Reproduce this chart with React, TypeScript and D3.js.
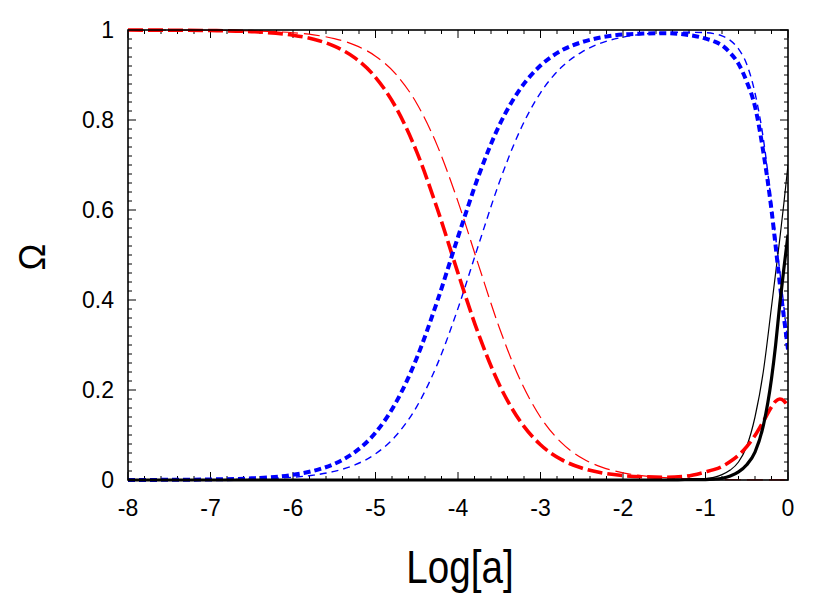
import React from "react";
import * as d3 from "d3";

const logA = [-8, -7.5, -7, -6.5, -6, -5.75, -5.5, -5.25, -5, -4.75, -4.5, -4.25, -4, -3.75, -3.5, -3.25, -3, -2.75, -2.5, -2.25, -2, -1.75, -1.5, -1.25, -1, -0.9, -0.8, -0.7, -0.6, -0.5, -0.4, -0.3, -0.2, -0.15, -0.1, -0.05, 0];

// thick (model 1)
const radThick = [0.9999, 0.9996, 0.9988, 0.9963, 0.9884, 0.9795, 0.9642, 0.938, 0.8949, 0.8272, 0.7291, 0.6022, 0.4598, 0.3237, 0.2121, 0.1315, 0.0784, 0.0457, 0.0265, 0.0155, 0.0098, 0.0072, 0.0062, 0.0082, 0.018, 0.023, 0.03, 0.041, 0.055, 0.074, 0.099, 0.13, 0.162, 0.175, 0.18, 0.176, 0.163];
const matThick = [0.0001, 0.0004, 0.0012, 0.0037, 0.0116, 0.0205, 0.0358, 0.062, 0.105, 0.173, 0.271, 0.398, 0.54, 0.676, 0.788, 0.868, 0.921, 0.954, 0.973, 0.984, 0.99, 0.992, 0.993, 0.99, 0.981, 0.975, 0.966, 0.949, 0.925, 0.885, 0.83, 0.73, 0.6, 0.52, 0.437, 0.362, 0.29];
const deThick = [0, 0, 0, 0, 0, 0, 0, 0, 0, 0, 0, 0, 0, 0, 0, 0, 0, 0, 0, 0, 0, 0, 0, 0.0005, 0.001, 0.002, 0.004, 0.009, 0.018, 0.034, 0.062, 0.12, 0.225, 0.3, 0.39, 0.47, 0.545];

// thin (model 2)
const radThin = [0.9999, 0.9998, 0.9994, 0.998, 0.9939, 0.9892, 0.9809, 0.9665, 0.9419, 0.9012, 0.8368, 0.7425, 0.6186, 0.477, 0.339, 0.2239, 0.1395, 0.0836, 0.0488, 0.028, 0.016, 0.009, 0.0051, 0.0029, 0.0016, 0.0012, 0.001, 0.0008, 0.0006, 0.0005, 0.0004, 0.0003, 0.0002, 0.0002, 0.0001, 0.0001, 0.0001];
const matThin = [0.0001, 0.0002, 0.0006, 0.002, 0.0061, 0.0108, 0.0191, 0.0335, 0.0581, 0.0988, 0.1632, 0.2575, 0.3814, 0.523, 0.661, 0.776, 0.8605, 0.9164, 0.951, 0.972, 0.984, 0.991, 0.994, 0.995, 0.994, 0.992, 0.987, 0.977, 0.958, 0.924, 0.86, 0.76, 0.615, 0.54, 0.465, 0.385, 0.3];
const deThin = [0, 0, 0, 0, 0, 0, 0, 0, 0, 0, 0, 0, 0, 0, 0, 0, 0, 0, 0, 0, 0, 0, 0, 0.001, 0.003, 0.006, 0.012, 0.022, 0.04, 0.075, 0.14, 0.24, 0.385, 0.46, 0.535, 0.615, 0.7];

const xTicks = [-8, -7, -6, -5, -4, -3, -2, -1, 0];
const yTicks = [0, 0.2, 0.4, 0.6, 0.8, 1];
const yTickLabels = ["0", "0.2", "0.4", "0.6", "0.8", "1"];

const W = 830, H = 604;
const L = 128, R = 788, T = 30, B = 480;

export default function App() {
  const x = d3.scaleLinear().domain([-8, 0]).range([L, R]);
  const y = d3.scaleLinear().domain([0, 1]).range([B, T]);
  const line = (vals: number[]) =>
    d3.line<number>().x((_, i) => x(logA[i])).y((v) => y(v)).curve(d3.curveMonotoneX)(vals) || "";

  const xMinor = d3.range(-8, 0.001, 0.2).map((v) => Math.round(v * 10) / 10);
  const yMinor = d3.range(0, 1.0001, 0.02).map((v) => Math.round(v * 100) / 100);
  const font = "'Liberation Sans', Arial, Helvetica, sans-serif";

  const series = [
    { d: radThin, c: "#ff0000", w: 1.2, dash: "16,6" },
    { d: matThin, c: "#0000ff", w: 1.4, dash: "7,5" },
    { d: deThin, c: "#000000", w: 1.2, dash: "" },
    { d: radThick, c: "#ff0000", w: 3.6, dash: "15,5" },
    { d: matThick, c: "#0000ff", w: 4, dash: "7,4" },
    { d: deThick, c: "#000000", w: 3.2, dash: "" },
  ];

  return (
    <svg width={W} height={H} style={{ position: "absolute", left: 0, top: 0, background: "#fff" }}>
      <defs>
        <clipPath id="plot">
          <rect x={L} y={T - 2} width={R - L} height={B - T + 4} />
        </clipPath>
      </defs>
      <rect x={0} y={0} width={W} height={H} fill="#fff" />
      {xMinor.map((v, i) => {
        const major = Math.abs(v - Math.round(v)) < 1e-6;
        const len = major ? 8 : 4;
        return (
          <g key={"xm" + i} stroke="#000" strokeWidth={1}>
            <line x1={x(v)} x2={x(v)} y1={B} y2={B - len} />
            <line x1={x(v)} x2={x(v)} y1={T} y2={T + len} />
          </g>
        );
      })}
      {yMinor.map((v, i) => {
        const major = Math.abs(v * 5 - Math.round(v * 5)) < 1e-6;
        const len = major ? 8 : 4;
        return (
          <g key={"ym" + i} stroke="#000" strokeWidth={1}>
            <line x1={L} x2={L + len} y1={y(v)} y2={y(v)} />
            <line x1={R} x2={R - len} y1={y(v)} y2={y(v)} />
          </g>
        );
      })}
      <g clipPath="url(#plot)">
        {series.map((s, i) => (
          <path key={i} d={line(s.d)} fill="none" stroke={s.c} strokeWidth={s.w} strokeDasharray={s.dash || undefined} />
        ))}
      </g>
      <rect x={L} y={T} width={R - L} height={B - T} fill="none" stroke="#000" strokeWidth={1.6} />
      {xTicks.map((v) => (
        <text key={"xl" + v} x={x(v)} y={516} textAnchor="middle" fontFamily={font} fontSize={23} fill="#000">
          {String(v)}
        </text>
      ))}
      {yTicks.map((v, i) => (
        <text key={"yl" + v} x={114} y={y(v) + 8} textAnchor="end" fontFamily={font} fontSize={23} fill="#000">
          {yTickLabels[i]}
        </text>
      ))}
      <text transform="translate(460,583) scale(0.84,1)" textAnchor="middle" fontFamily={font} fontSize={46} fill="#000">
        Log[a]
      </text>
      <text transform="translate(45,257) rotate(-90)" textAnchor="middle" fontFamily={font} fontSize={36} fill="#000">
        Ω
      </text>
    </svg>
  );
}
